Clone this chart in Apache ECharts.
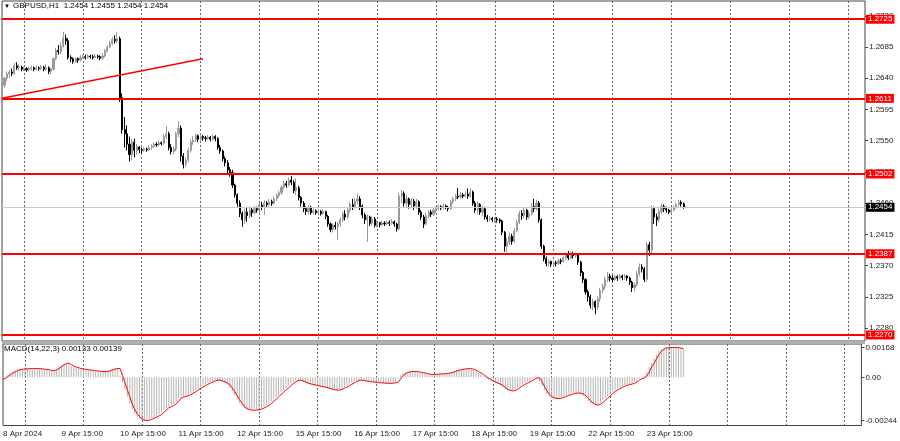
<!DOCTYPE html>
<html><head><meta charset="utf-8">
<script src="https://cdn.jsdelivr.net/npm/echarts@6/dist/echarts.min.js"></script>
<style>html,body{margin:0;padding:0;background:#fff}#c{width:900px;height:441px}</style>
</head><body><div id="c"></div>
<script>
// ---- DATA (GBPUSD H1, one value per bar, 8 Apr 15:00 .. 24 Apr 06:00) ----
const opens=[
1.2614,1.2630,1.2640,1.2646,1.2649,1.2647,1.2658,1.2655,1.2656,1.2653,
1.2654,1.2652,1.2654,1.2655,1.2653,1.2655,1.2654,1.2656,1.2653,1.2655,
1.2650,1.2653,1.2668,1.2680,1.2678,1.2686,1.2697,1.2694,1.2670,1.2668,
1.2664,1.2668,1.2666,1.2670,1.2671,1.2670,1.2672,1.2671,1.2670,1.2672,
1.2671,1.2669,1.2672,1.2679,1.2685,1.2690,1.2696,1.2694,1.2697,1.2612,
1.2566,1.2560,1.2545,1.2530,1.2548,1.2536,1.2541,1.2537,1.2536,1.2538,
1.2537,1.2540,1.2542,1.2545,1.2544,1.2547,1.2546,1.2556,1.2560,1.2540,
1.2534,1.2538,1.2560,1.2568,1.2528,1.2516,1.2522,1.2536,1.2548,1.2551,
1.2557,1.2552,1.2556,1.2554,1.2553,1.2555,1.2552,1.2556,1.2553,1.2540,
1.2535,1.2524,1.2518,1.2508,1.2504,1.2486,1.2472,1.2460,1.2445,1.2436,
1.2447,1.2442,1.2450,1.2446,1.2452,1.2450,1.2457,1.2455,1.2460,1.2458,
1.2462,1.2460,1.2466,1.2471,1.2475,1.2483,1.2488,1.2486,1.2493,1.2490,
1.2478,1.2482,1.2468,1.2460,1.2452,1.2448,1.2454,1.2446,1.2449,1.2446,
1.2448,1.2445,1.2448,1.2441,1.2430,1.2422,1.2428,1.2426,1.2430,1.2436,
1.2444,1.2440,1.2450,1.2458,1.2455,1.2463,1.2466,1.2455,1.2443,1.2436,
1.2440,1.2431,1.2437,1.2428,1.2432,1.2429,1.2431,1.2430,1.2432,1.2431,
1.2433,1.2430,1.2423,1.2470,1.2474,1.2460,1.2466,1.2458,1.2463,1.2456,
1.2462,1.2447,1.2440,1.2430,1.2442,1.2447,1.2444,1.2450,1.2452,1.2455,
1.2453,1.2456,1.2454,1.2452,1.2462,1.2466,1.2470,1.2469,1.2472,1.2470,
1.2473,1.2470,1.2476,1.2460,1.2450,1.2458,1.2447,1.2452,1.2440,1.2437,
1.2438,1.2436,1.2437,1.2436,1.2434,1.2418,1.2398,1.2404,1.2412,1.2405,
1.2420,1.2432,1.2445,1.2442,1.2450,1.2440,1.2445,1.2455,1.2452,1.2460,
1.2436,1.2398,1.2380,1.2373,1.2376,1.2372,1.2374,1.2373,1.2377,1.2376,
1.2381,1.2385,1.2381,1.2386,1.2384,1.2386,1.2375,1.2360,1.2350,1.2332,
1.2325,1.2313,1.2318,1.2310,1.2322,1.2334,1.2340,1.2350,1.2355,1.2352,
1.2350,1.2354,1.2352,1.2355,1.2353,1.2355,1.2352,1.2346,1.2338,1.2342,
1.2358,1.2368,1.2365,1.2350,1.2400,1.2392,1.2452,1.2440,1.2436,1.2448,
1.2455,1.2452,1.2450,1.2447,1.2450,1.2454,1.2458,1.2461,1.2459,1.2454];
const closes=[
1.2630,1.2640,1.2646,1.2649,1.2647,1.2658,1.2655,1.2656,1.2653,1.2654,
1.2652,1.2654,1.2655,1.2653,1.2655,1.2654,1.2656,1.2653,1.2655,1.2650,
1.2653,1.2668,1.2680,1.2678,1.2686,1.2697,1.2694,1.2670,1.2668,1.2664,
1.2668,1.2666,1.2670,1.2671,1.2670,1.2672,1.2671,1.2670,1.2672,1.2671,
1.2669,1.2672,1.2679,1.2685,1.2690,1.2696,1.2694,1.2697,1.2612,1.2566,
1.2560,1.2545,1.2530,1.2548,1.2536,1.2541,1.2537,1.2536,1.2538,1.2537,
1.2540,1.2542,1.2545,1.2544,1.2547,1.2546,1.2556,1.2560,1.2540,1.2534,
1.2538,1.2560,1.2568,1.2528,1.2516,1.2522,1.2536,1.2548,1.2551,1.2557,
1.2552,1.2556,1.2554,1.2553,1.2555,1.2552,1.2556,1.2553,1.2540,1.2535,
1.2524,1.2518,1.2508,1.2504,1.2486,1.2472,1.2460,1.2445,1.2436,1.2447,
1.2442,1.2450,1.2446,1.2452,1.2450,1.2457,1.2455,1.2460,1.2458,1.2462,
1.2460,1.2466,1.2471,1.2475,1.2483,1.2488,1.2486,1.2493,1.2490,1.2478,
1.2482,1.2468,1.2460,1.2452,1.2448,1.2454,1.2446,1.2449,1.2446,1.2448,
1.2445,1.2448,1.2441,1.2430,1.2422,1.2428,1.2426,1.2430,1.2436,1.2444,
1.2440,1.2450,1.2458,1.2455,1.2463,1.2466,1.2455,1.2443,1.2436,1.2440,
1.2431,1.2437,1.2428,1.2432,1.2429,1.2431,1.2430,1.2432,1.2431,1.2433,
1.2430,1.2423,1.2470,1.2474,1.2460,1.2466,1.2458,1.2463,1.2456,1.2462,
1.2447,1.2440,1.2430,1.2442,1.2447,1.2444,1.2450,1.2452,1.2455,1.2453,
1.2456,1.2454,1.2452,1.2462,1.2466,1.2470,1.2469,1.2472,1.2470,1.2473,
1.2470,1.2476,1.2460,1.2450,1.2458,1.2447,1.2452,1.2440,1.2437,1.2438,
1.2436,1.2437,1.2436,1.2434,1.2418,1.2398,1.2404,1.2412,1.2405,1.2420,
1.2432,1.2445,1.2442,1.2450,1.2440,1.2445,1.2455,1.2452,1.2460,1.2436,
1.2398,1.2380,1.2373,1.2376,1.2372,1.2374,1.2373,1.2377,1.2376,1.2381,
1.2385,1.2381,1.2386,1.2384,1.2386,1.2375,1.2360,1.2350,1.2332,1.2325,
1.2313,1.2318,1.2310,1.2322,1.2334,1.2340,1.2350,1.2355,1.2352,1.2350,
1.2354,1.2352,1.2355,1.2353,1.2355,1.2352,1.2346,1.2338,1.2342,1.2358,
1.2368,1.2365,1.2350,1.2400,1.2392,1.2452,1.2440,1.2436,1.2448,1.2455,
1.2452,1.2450,1.2447,1.2450,1.2454,1.2458,1.2461,1.2459,1.2454,1.2454];
const highs=[
1.2633,1.2642,1.2650,1.2652,1.2654,1.2662,1.2663,1.2660,1.2658,1.2657,
1.2656,1.2657,1.2658,1.2657,1.2658,1.2657,1.2659,1.2658,1.2660,1.2657,
1.2655,1.2670,1.2684,1.2688,1.2692,1.2707,1.2703,1.2698,1.2673,1.2670,
1.2670,1.2670,1.2673,1.2674,1.2674,1.2675,1.2674,1.2674,1.2675,1.2674,
1.2673,1.2676,1.2682,1.2688,1.2694,1.2699,1.2702,1.2707,1.2700,1.2618,
1.2584,1.2572,1.2556,1.2553,1.2553,1.2545,1.2542,1.2540,1.2541,1.2540,
1.2543,1.2545,1.2548,1.2548,1.2550,1.2549,1.2560,1.2571,1.2563,1.2545,
1.2542,1.2563,1.2578,1.2572,1.2532,1.2526,1.2540,1.2552,1.2557,1.2560,
1.2559,1.2560,1.2558,1.2557,1.2558,1.2557,1.2559,1.2558,1.2555,1.2544,
1.2537,1.2527,1.2522,1.2512,1.2508,1.2488,1.2474,1.2464,1.2448,1.2452,
1.2453,1.2455,1.2453,1.2456,1.2455,1.2460,1.2462,1.2464,1.2463,1.2466,
1.2465,1.2470,1.2474,1.2478,1.2486,1.2492,1.2492,1.2497,1.2499,1.2493,
1.2496,1.2485,1.2470,1.2463,1.2455,1.2457,1.2456,1.2452,1.2451,1.2451,
1.2450,1.2451,1.2449,1.2443,1.2432,1.2431,1.2433,1.2433,1.2440,1.2448,
1.2450,1.2454,1.2462,1.2466,1.2467,1.2474,1.2470,1.2458,1.2446,1.2444,
1.2442,1.2441,1.2440,1.2435,1.2433,1.2434,1.2434,1.2435,1.2435,1.2437,
1.2435,1.2432,1.2475,1.2479,1.2477,1.2472,1.2468,1.2467,1.2466,1.2466,
1.2464,1.2450,1.2443,1.2446,1.2450,1.2450,1.2453,1.2455,1.2458,1.2457,
1.2459,1.2458,1.2456,1.2465,1.2469,1.2473,1.2482,1.2476,1.2475,1.2477,
1.2481,1.2481,1.2478,1.2463,1.2462,1.2460,1.2456,1.2455,1.2443,1.2441,
1.2440,1.2440,1.2440,1.2438,1.2436,1.2420,1.2410,1.2418,1.2416,1.2424,
1.2436,1.2449,1.2450,1.2454,1.2452,1.2449,1.2460,1.2466,1.2465,1.2463,
1.2438,1.2400,1.2383,1.2379,1.2377,1.2377,1.2377,1.2380,1.2380,1.2384,
1.2389,1.2391,1.2389,1.2390,1.2389,1.2388,1.2377,1.2362,1.2352,1.2335,
1.2328,1.2322,1.2320,1.2326,1.2338,1.2344,1.2354,1.2361,1.2358,1.2356,
1.2357,1.2356,1.2358,1.2357,1.2358,1.2356,1.2354,1.2348,1.2346,1.2362,
1.2373,1.2372,1.2368,1.2404,1.2404,1.2457,1.2455,1.2445,1.2452,1.2459,
1.2458,1.2455,1.2452,1.2453,1.2457,1.2461,1.2465,1.2464,1.2461,1.2455];
const lows=[
1.2611,1.2626,1.2636,1.2640,1.2643,1.2645,1.2652,1.2651,1.2650,1.2650,
1.2649,1.2650,1.2651,1.2650,1.2651,1.2651,1.2652,1.2650,1.2651,1.2646,
1.2645,1.2651,1.2666,1.2674,1.2675,1.2684,1.2688,1.2667,1.2663,1.2661,
1.2662,1.2662,1.2664,1.2668,1.2667,1.2668,1.2668,1.2667,1.2669,1.2668,
1.2666,1.2666,1.2670,1.2677,1.2683,1.2688,1.2690,1.2691,1.2606,1.2560,
1.2540,1.2536,1.2520,1.2522,1.2526,1.2530,1.2532,1.2532,1.2534,1.2534,
1.2535,1.2537,1.2540,1.2541,1.2542,1.2543,1.2544,1.2552,1.2536,1.2530,
1.2530,1.2535,1.2555,1.2520,1.2510,1.2512,1.2519,1.2533,1.2544,1.2548,
1.2548,1.2550,1.2550,1.2549,1.2551,1.2549,1.2550,1.2549,1.2537,1.2531,
1.2520,1.2513,1.2503,1.2498,1.2482,1.2468,1.2455,1.2440,1.2426,1.2430,
1.2433,1.2438,1.2440,1.2444,1.2446,1.2445,1.2450,1.2443,1.2453,1.2455,
1.2456,1.2458,1.2463,1.2468,1.2472,1.2480,1.2482,1.2484,1.2486,1.2474,
1.2472,1.2464,1.2455,1.2447,1.2443,1.2444,1.2443,1.2444,1.2443,1.2444,
1.2442,1.2443,1.2437,1.2426,1.2418,1.2418,1.2422,1.2407,1.2426,1.2433,
1.2435,1.2437,1.2446,1.2450,1.2452,1.2458,1.2450,1.2438,1.2430,1.2404,
1.2427,1.2428,1.2425,1.2425,1.2425,1.2427,1.2427,1.2428,1.2427,1.2429,
1.2426,1.2419,1.2421,1.2460,1.2455,1.2455,1.2452,1.2453,1.2450,1.2452,
1.2443,1.2436,1.2424,1.2428,1.2438,1.2440,1.2441,1.2446,1.2449,1.2450,
1.2451,1.2451,1.2448,1.2450,1.2459,1.2463,1.2466,1.2466,1.2467,1.2468,
1.2466,1.2468,1.2456,1.2446,1.2445,1.2443,1.2441,1.2436,1.2433,1.2434,
1.2433,1.2433,1.2432,1.2431,1.2414,1.2390,1.2389,1.2400,1.2400,1.2403,
1.2418,1.2430,1.2436,1.2438,1.2436,1.2437,1.2442,1.2447,1.2449,1.2432,
1.2394,1.2376,1.2369,1.2369,1.2368,1.2369,1.2369,1.2371,1.2372,1.2374,
1.2378,1.2378,1.2379,1.2380,1.2381,1.2371,1.2355,1.2345,1.2328,1.2318,
1.2308,1.2306,1.2300,1.2306,1.2318,1.2330,1.2336,1.2346,1.2347,1.2346,
1.2348,1.2348,1.2350,1.2349,1.2350,1.2348,1.2342,1.2332,1.2333,1.2340,
1.2355,1.2360,1.2346,1.2347,1.2384,1.2385,1.2430,1.2427,1.2432,1.2444,
1.2447,1.2446,1.2444,1.2445,1.2448,1.2452,1.2455,1.2455,1.2452,1.2454];
const macdMain=[
-0.00006,0.00004,0.00014,0.00024,0.00031,0.00038,0.00042,0.00045,0.00047,0.00048,
0.00049,0.00049,0.00050,0.00050,0.00049,0.00048,0.00046,0.00044,0.00042,0.00039,
0.00037,0.00042,0.00050,0.00060,0.00070,0.00078,0.00080,0.00072,0.00064,0.00058,
0.00054,0.00050,0.00047,0.00045,0.00043,0.00041,0.00039,0.00037,0.00036,0.00034,
0.00033,0.00032,0.00033,0.00037,0.00042,0.00047,0.00050,0.00050,0.00012,-0.00030,
-0.00070,-0.00110,-0.00150,-0.00180,-0.00205,-0.00222,-0.00234,-0.00242,-0.00244,-0.00242,
-0.00237,-0.00231,-0.00225,-0.00218,-0.00210,-0.00198,-0.00185,-0.00172,-0.00166,-0.00160,
-0.00150,-0.00135,-0.00118,-0.00112,-0.00108,-0.00104,-0.00098,-0.00090,-0.00082,-0.00072,
-0.00063,-0.00055,-0.00047,-0.00040,-0.00033,-0.00027,-0.00021,-0.00017,-0.00016,-0.00020,
-0.00026,-0.00032,-0.00042,-0.00060,-0.00080,-0.00102,-0.00125,-0.00146,-0.00164,-0.00176,
-0.00182,-0.00185,-0.00186,-0.00185,-0.00183,-0.00180,-0.00174,-0.00167,-0.00158,-0.00148,
-0.00136,-0.00124,-0.00111,-0.00098,-0.00085,-0.00072,-0.00061,-0.00048,-0.00036,-0.00026,
-0.00018,-0.00016,-0.00020,-0.00026,-0.00032,-0.00036,-0.00040,-0.00043,-0.00046,-0.00049,
-0.00052,-0.00055,-0.00058,-0.00062,-0.00066,-0.00070,-0.00072,-0.00072,-0.00068,-0.00062,
-0.00056,-0.00048,-0.00040,-0.00032,-0.00024,-0.00018,-0.00016,-0.00018,-0.00021,-0.00023,
-0.00025,-0.00026,-0.00028,-0.00030,-0.00031,-0.00032,-0.00033,-0.00034,-0.00034,-0.00033,
-0.00031,-0.00028,-0.00010,0.00010,0.00020,0.00027,0.00031,0.00033,0.00033,0.00032,
0.00030,0.00027,0.00024,0.00021,0.00018,0.00016,0.00016,0.00017,0.00018,0.00019,
0.00020,0.00021,0.00023,0.00026,0.00030,0.00035,0.00040,0.00043,0.00046,0.00048,
0.00049,0.00049,0.00046,0.00040,0.00033,0.00025,0.00016,0.00006,-0.00004,-0.00012,
-0.00020,-0.00027,-0.00033,-0.00038,-0.00046,-0.00058,-0.00068,-0.00074,-0.00077,-0.00075,
-0.00068,-0.00058,-0.00048,-0.00040,-0.00034,-0.00027,-0.00019,-0.00011,-0.00004,-0.00003,
-0.00022,-0.00050,-0.00075,-0.00095,-0.00108,-0.00116,-0.00119,-0.00120,-0.00118,-0.00113,
-0.00108,-0.00103,-0.00098,-0.00093,-0.00090,-0.00089,-0.00090,-0.00094,-0.00104,-0.00118,
-0.00133,-0.00146,-0.00154,-0.00157,-0.00152,-0.00142,-0.00130,-0.00118,-0.00105,-0.00092,
-0.00080,-0.00072,-0.00064,-0.00057,-0.00050,-0.00045,-0.00041,-0.00038,-0.00034,-0.00026,
-0.00016,-0.00008,-0.00003,0.00008,0.00030,0.00058,0.00080,0.00105,0.00128,0.00148,
0.00158,0.00165,0.00168,0.00168,0.00168,0.00168,0.00167,0.00165,0.00162,0.00158];
const macdSignal=[
-0.00010,-0.00006,0.00004,0.00014,0.00024,0.00031,0.00038,0.00042,0.00045,0.00047,
0.00048,0.00049,0.00049,0.00050,0.00050,0.00049,0.00048,0.00046,0.00044,0.00042,
0.00039,0.00037,0.00042,0.00050,0.00060,0.00070,0.00078,0.00080,0.00072,0.00064,
0.00058,0.00054,0.00050,0.00047,0.00045,0.00043,0.00041,0.00039,0.00037,0.00036,
0.00034,0.00033,0.00032,0.00033,0.00037,0.00042,0.00047,0.00050,0.00050,0.00012,
-0.00030,-0.00070,-0.00110,-0.00150,-0.00180,-0.00205,-0.00222,-0.00234,-0.00242,-0.00244,
-0.00242,-0.00237,-0.00231,-0.00225,-0.00218,-0.00210,-0.00198,-0.00185,-0.00172,-0.00166,
-0.00160,-0.00150,-0.00135,-0.00118,-0.00112,-0.00108,-0.00104,-0.00098,-0.00090,-0.00082,
-0.00072,-0.00063,-0.00055,-0.00047,-0.00040,-0.00033,-0.00027,-0.00021,-0.00017,-0.00016,
-0.00020,-0.00026,-0.00032,-0.00042,-0.00060,-0.00080,-0.00102,-0.00125,-0.00146,-0.00164,
-0.00176,-0.00182,-0.00185,-0.00186,-0.00185,-0.00183,-0.00180,-0.00174,-0.00167,-0.00158,
-0.00148,-0.00136,-0.00124,-0.00111,-0.00098,-0.00085,-0.00072,-0.00061,-0.00048,-0.00036,
-0.00026,-0.00018,-0.00016,-0.00020,-0.00026,-0.00032,-0.00036,-0.00040,-0.00043,-0.00046,
-0.00049,-0.00052,-0.00055,-0.00058,-0.00062,-0.00066,-0.00070,-0.00072,-0.00072,-0.00068,
-0.00062,-0.00056,-0.00048,-0.00040,-0.00032,-0.00024,-0.00018,-0.00016,-0.00018,-0.00021,
-0.00023,-0.00025,-0.00026,-0.00028,-0.00030,-0.00031,-0.00032,-0.00033,-0.00034,-0.00034,
-0.00033,-0.00031,-0.00028,-0.00010,0.00010,0.00020,0.00027,0.00031,0.00033,0.00033,
0.00032,0.00030,0.00027,0.00024,0.00021,0.00018,0.00016,0.00016,0.00017,0.00018,
0.00019,0.00020,0.00021,0.00023,0.00026,0.00030,0.00035,0.00040,0.00043,0.00046,
0.00048,0.00049,0.00049,0.00046,0.00040,0.00033,0.00025,0.00016,0.00006,-0.00004,
-0.00012,-0.00020,-0.00027,-0.00033,-0.00038,-0.00046,-0.00058,-0.00068,-0.00074,-0.00077,
-0.00075,-0.00068,-0.00058,-0.00048,-0.00040,-0.00034,-0.00027,-0.00019,-0.00011,-0.00004,
-0.00003,-0.00022,-0.00050,-0.00075,-0.00095,-0.00108,-0.00116,-0.00119,-0.00120,-0.00118,
-0.00113,-0.00108,-0.00103,-0.00098,-0.00093,-0.00090,-0.00089,-0.00090,-0.00094,-0.00104,
-0.00118,-0.00133,-0.00146,-0.00154,-0.00157,-0.00152,-0.00142,-0.00130,-0.00118,-0.00105,
-0.00092,-0.00080,-0.00072,-0.00064,-0.00057,-0.00050,-0.00045,-0.00041,-0.00038,-0.00034,
-0.00026,-0.00016,-0.00008,-0.00003,0.00008,0.00030,0.00058,0.00080,0.00105,0.00128,
0.00148,0.00158,0.00165,0.00168,0.00168,0.00168,0.00168,0.00167,0.00165,0.00162];
const tickLabels=['8 Apr 2024','9 Apr 15:00','10 Apr 15:00','11 Apr 15:00','12 Apr 15:00','15 Apr 15:00',
  '16 Apr 15:00','17 Apr 15:00','18 Apr 15:00','19 Apr 15:00','22 Apr 15:00','23 Apr 15:00'];
const priceTicks=[1.2280,1.2325,1.2370,1.2415,1.2460,1.2505,1.2550,1.2595,1.2640,1.2685,1.2730];
const levelPrices=[1.2725,1.2611,1.2502,1.2387,1.2270];
const bidPrice=1.2454;
const trendBars=[0,82];
const trendPrices=[1.2611,1.2668];
const macdTicks=[-0.00244,0,0.00168];
const headerText='GBPUSD,H1  1.2454 1.2455 1.2454 1.2454';
const macdText='MACD(14,22,3) 0.00133 0.00139';

// ---- layout constants ----
const barsPerDay=24, dayGridOffset=9, totalSlots=353;
const FONT='Liberation Sans';

const cats=[];
for(let i=0;i<totalSlots;i++){
  const k=i/barsPerDay;
  cats.push(Number.isInteger(k)&&k<tickLabels.length?tickLabels[k]:'');
}
const candleData=opens.map((o,i)=>[o,closes[i],lows[i],highs[i]]);

const chart=echarts.init(document.getElementById('c'),null,{renderer:'canvas'});
const splitDash={show:true,interval:(idx)=>idx>=dayGridOffset&&(idx-dayGridOffset)%barsPerDay===0,
  lineStyle:{color:'#666',type:[2,2],width:1}};
const levelLabel=(bg)=>({show:true,position:'end',distance:1,formatter:p=>Number(p.value).toFixed(4),
  color:'#fff',backgroundColor:bg,padding:[1,2,0,2],fontSize:8,fontFamily:FONT,lineHeight:8});

chart.setOption({
  animation:false,
  backgroundColor:'#fff',
  textStyle:{fontFamily:FONT},
  grid:[
    {left:2,top:1,width:863,height:340,show:true,borderColor:'#444',borderWidth:1},
    {left:2,top:344,width:863,height:81.5,show:true,borderColor:'#444',borderWidth:1}
  ],
  xAxis:[
    {type:'category',gridIndex:0,data:cats,boundaryGap:false,axisLine:{show:false},axisTick:{show:false},
     axisLabel:{show:false},splitLine:splitDash},
    {type:'category',gridIndex:1,data:cats,boundaryGap:false,axisLine:{show:false},axisTick:{show:false},
     axisLabel:{show:true,interval:(idx,val)=>val!=='',align:'left',fontSize:8,color:'#222',margin:4,fontFamily:FONT},
     splitLine:splitDash}
  ],
  yAxis:[
    {type:'value',gridIndex:0,position:'right',min:1.22613,max:1.27513,
     axisLine:{show:false},splitLine:{show:false},
     axisTick:{show:true,length:3,customValues:priceTicks,lineStyle:{color:'#444'}},
     axisLabel:{customValues:priceTicks,formatter:v=>v.toFixed(4),fontSize:8,color:'#222',margin:4,fontFamily:FONT}},
    {type:'value',gridIndex:1,position:'right',min:-0.00272,max:0.00188,
     axisLine:{show:false},splitLine:{show:false},
     axisTick:{show:true,length:3,customValues:macdTicks,lineStyle:{color:'#444'}},
     axisLabel:{customValues:macdTicks,formatter:v=>v===0?'0.00':v.toFixed(5),fontSize:8,color:'#222',margin:4,fontFamily:FONT}}
  ],
  graphic:[
    {type:'rect',left:2,top:341,shape:{width:863,height:3},style:{fill:'#b0b0b0'},silent:true},
    {type:'text',left:4,top:3,style:{text:'▼',font:'6px '+FONT,fill:'#000'},silent:true},
    {type:'text',left:13,top:2,style:{text:headerText,font:'8px '+FONT,fill:'#000'},silent:true},
    {type:'text',left:4,top:345,style:{text:macdText,font:'8px '+FONT,fill:'#000'},silent:true}
  ],
  series:[
    {type:'candlestick',xAxisIndex:0,yAxisIndex:0,data:candleData,barWidth:1.6,
     itemStyle:{color:'#9a9a9a',color0:'#000',borderColor:'#9a9a9a',borderColor0:'#000',borderWidth:1},
     markLine:{silent:true,symbol:['none','none'],animation:false,precision:4,
       data:[
         {yAxis:bidPrice,lineStyle:{color:'#c8c8c8',width:1,type:'solid'},label:levelLabel('#000')},
         ...levelPrices.map(v=>({yAxis:v,lineStyle:{color:'#ff0000',width:2,type:'solid'},label:levelLabel('#ff0000')})),
         [{coord:[trendBars[0],trendPrices[0]],lineStyle:{color:'#ff0000',width:1.5,type:'solid'},label:{show:false}},
          {coord:[trendBars[1],trendPrices[1]]}]
       ]}},
    {type:'bar',xAxisIndex:1,yAxisIndex:1,data:macdMain,barWidth:1,itemStyle:{color:'#b4b4b4'},silent:true},
    {type:'line',xAxisIndex:1,yAxisIndex:1,data:macdSignal,showSymbol:false,symbol:'none',
     lineStyle:{color:'#ff0000',width:1},silent:true,z:5}
  ]
});
</script></body></html>
